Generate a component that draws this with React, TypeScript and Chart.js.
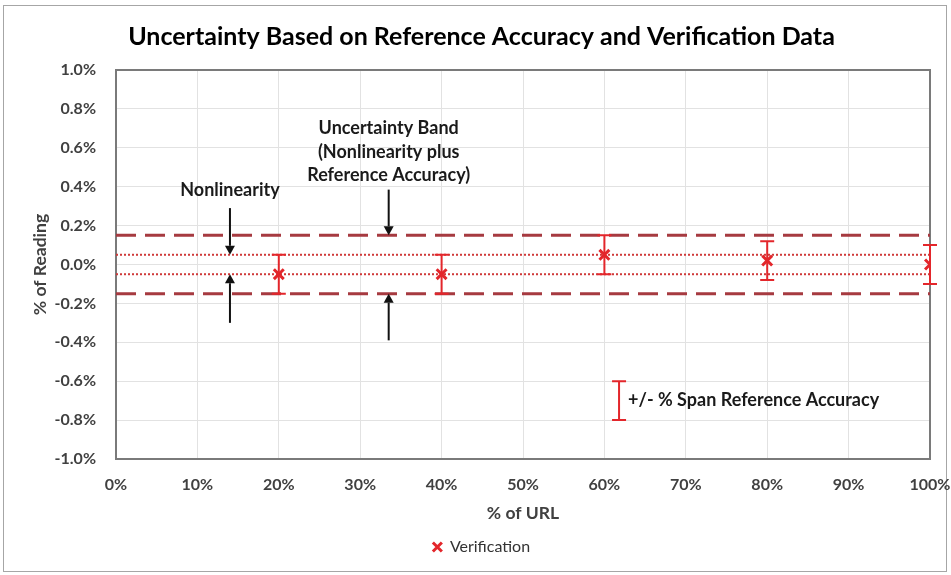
import React, { useEffect, useRef } from 'react';
import { Chart, registerables } from 'chart.js';

Chart.register(...registerables);

// ---- data ----
const TITLE = 'Uncertainty Based on Reference Accuracy and Verification Data';
const X_TITLE = '% of URL';
const Y_TITLE = '% of Reading';
const SERIES_NAME = 'Verification';

const URL_PCT = [20, 40, 60, 80, 100];
const VERIFICATION = [-0.05, -0.05, 0.05, 0.02, 0.0];
const REF_ACCURACY = [0.1, 0.1, 0.1, 0.1, 0.1];

const X_MIN = 0;
const X_MAX = 100;
const X_STEP = 10;
const Y_MIN = -1;
const Y_MAX = 1;
const Y_STEP = 0.2;

const NONLIN_LIMITS = [0.05, -0.05];
const BAND_LIMITS = [0.15, -0.15];

// annotations (in data units)
const NONLIN_LABEL = ['Nonlinearity'];
const NONLIN_LABEL_X = 14;
const NONLIN_LABEL_Y = [0.38];
const NONLIN_ARROW_FROM = [0.29, -0.3];

const BAND_LABEL = ['Uncertainty Band', '(Nonlinearity plus', 'Reference Accuracy)'];
const BAND_LABEL_X = 33.5;
const BAND_LABEL_Y = [0.7, 0.58, 0.46];
const BAND_ARROW_FROM = [0.385, -0.39];

const KEY_TEXT = '+/- % Span Reference Accuracy';
const KEY_X = 61.8;
const KEY_Y = -0.7;
const KEY_ERR = 0.1;

const FONT = 'Lato, "Open Sans", "DejaVu Sans", sans-serif';
const RED = '#e3262b';
const DARK_RED = '#a63a40';

function drawArrow(ctx: CanvasRenderingContext2D, x: number, y0: number, y1: number) {
  const dir = y1 > y0 ? 1 : -1;
  const headLen = 9;
  const headW = 5;
  ctx.save();
  ctx.strokeStyle = '#111';
  ctx.fillStyle = '#111';
  ctx.lineWidth = 2;
  ctx.beginPath();
  ctx.moveTo(x, y0);
  ctx.lineTo(x, y1 - dir * headLen);
  ctx.stroke();
  ctx.beginPath();
  ctx.moveTo(x, y1);
  ctx.lineTo(x - headW, y1 - dir * headLen);
  ctx.lineTo(x + headW, y1 - dir * headLen);
  ctx.closePath();
  ctx.fill();
  ctx.restore();
}

function drawErrorBar(ctx: CanvasRenderingContext2D, x: number, yTop: number, yBot: number) {
  ctx.save();
  ctx.strokeStyle = RED;
  ctx.lineWidth = 2;
  ctx.beginPath();
  ctx.moveTo(x, yTop);
  ctx.lineTo(x, yBot);
  ctx.moveTo(x - 7, yTop);
  ctx.lineTo(x + 7, yTop);
  ctx.moveTo(x - 7, yBot);
  ctx.lineTo(x + 7, yBot);
  ctx.stroke();
  ctx.restore();
}

const framePlugin = {
  id: 'frame',
  beforeDatasetsDraw(chart: any) {
    const { ctx, chartArea } = chart;
    ctx.save();
    ctx.strokeStyle = '#7a7a7a';
    ctx.lineWidth = 2;
    ctx.strokeRect(chartArea.left, chartArea.top, chartArea.right - chartArea.left, chartArea.bottom - chartArea.top);
    ctx.restore();
  },
};

const errorBarPlugin = {
  id: 'errorBars',
  afterDatasetsDraw(chart: any) {
    const { ctx, scales } = chart;
    const xs = scales.x;
    const ys = scales.y;
    URL_PCT.forEach((u, i) => {
      const x = xs.getPixelForValue(u);
      drawErrorBar(ctx, x, ys.getPixelForValue(VERIFICATION[i] + REF_ACCURACY[i]), ys.getPixelForValue(VERIFICATION[i] - REF_ACCURACY[i]));
    });
  },
};

const annotationPlugin = {
  id: 'annotations',
  afterDraw(chart: any) {
    const { ctx, scales } = chart;
    const xs = scales.x;
    const ys = scales.y;
    ctx.save();
    ctx.font = `bold 18px ${FONT}`;
    ctx.fillStyle = '#1a1a1a';
    ctx.textAlign = 'center';
    ctx.textBaseline = 'middle';
    // Nonlinearity
    const nx = xs.getPixelForValue(NONLIN_LABEL_X);
    NONLIN_LABEL.forEach((t, i) => ctx.fillText(t, nx, ys.getPixelForValue(NONLIN_LABEL_Y[i])));
    drawArrow(ctx, nx, ys.getPixelForValue(NONLIN_ARROW_FROM[0]), ys.getPixelForValue(NONLIN_LIMITS[0]));
    drawArrow(ctx, nx, ys.getPixelForValue(NONLIN_ARROW_FROM[1]), ys.getPixelForValue(NONLIN_LIMITS[1]));
    // Band
    const bx = xs.getPixelForValue(BAND_LABEL_X);
    BAND_LABEL.forEach((t, i) => ctx.fillText(t, bx, ys.getPixelForValue(BAND_LABEL_Y[i])));
    drawArrow(ctx, bx, ys.getPixelForValue(BAND_ARROW_FROM[0]), ys.getPixelForValue(BAND_LIMITS[0]));
    drawArrow(ctx, bx, ys.getPixelForValue(BAND_ARROW_FROM[1]), ys.getPixelForValue(BAND_LIMITS[1]));
    // key
    const kx = xs.getPixelForValue(KEY_X);
    drawErrorBar(ctx, kx, ys.getPixelForValue(KEY_Y + KEY_ERR), ys.getPixelForValue(KEY_Y - KEY_ERR));
    ctx.textAlign = 'left';
    ctx.fillStyle = '#1a1a1a';
    ctx.fillText(KEY_TEXT, kx + 9, ys.getPixelForValue(KEY_Y));
    ctx.restore();
  },
};

function hLine(label: string, y: number, dashed: boolean) {
  return {
    label,
    data: [{ x: X_MIN, y }, { x: X_MAX, y }],
    showLine: true,
    borderColor: dashed ? DARK_RED : '#cf3a3a',
    borderWidth: dashed ? 3 : 2,
    borderDash: dashed ? [20, 9] : [2, 2],
    pointRadius: 0,
    fill: false,
  };
}

export default function App() {
  const ref = useRef<HTMLCanvasElement>(null);
  useEffect(() => {
    const canvas = ref.current!;
    const chart = new Chart(canvas, {
      type: 'scatter',
      data: {
        datasets: [
          {
            label: SERIES_NAME,
            data: URL_PCT.map((u, i) => ({ x: u, y: VERIFICATION[i] })),
            pointStyle: 'crossRot',
            pointRadius: 7,
            pointBorderWidth: 3,
            borderColor: RED,
            backgroundColor: RED,
            showLine: false,
          },
          hLine('Upper nonlinearity', NONLIN_LIMITS[0], false),
          hLine('Lower nonlinearity', NONLIN_LIMITS[1], false),
          hLine('Upper band', BAND_LIMITS[0], true),
          hLine('Lower band', BAND_LIMITS[1], true),
        ] as any,
      },
      options: {
        animation: false,
        responsive: true,
        maintainAspectRatio: false,
        layout: { padding: { left: 33, right: 21, top: 0, bottom: 10 } },
        plugins: {
          title: {
            display: true,
            text: TITLE,
            color: '#000',
            font: { family: FONT, size: 25, weight: 'bold' },
            padding: { top: 22, bottom: 18 },
          },
          legend: {
            position: 'bottom',
            labels: {
              filter: (item: any) => item.datasetIndex === 0,
              usePointStyle: true,
              boxWidth: 9,
              boxHeight: 9,
              color: '#333',
              font: { family: FONT, size: 16 },
            },
          },
          tooltip: { enabled: false },
        },
        scales: {
          x: {
            type: 'linear',
            min: X_MIN,
            max: X_MAX,
            afterFit: (s: any) => {
              s.height = 70;
              s.paddingLeft = 0;
              s.paddingRight = 0;
            },
            ticks: {
              stepSize: X_STEP,
              padding: 16,
              color: '#404040',
              font: { family: FONT, size: 16, weight: 'bold' },
              callback: (v: any) => `${v}%`,
            },
            grid: { color: '#e2e2e2', drawTicks: false },
            border: { display: false },
            title: {
              display: true,
              text: X_TITLE,
              color: '#404040',
              font: { family: FONT, size: 17.5, weight: 'bold' },
              padding: { top: 0, bottom: 5.5 },
            },
          },
          y: {
            type: 'linear',
            min: Y_MIN,
            max: Y_MAX,
            afterFit: (s: any) => {
              s.width = 83;
              s.paddingTop = 0;
              s.paddingBottom = 0;
            },
            ticks: {
              stepSize: Y_STEP,
              padding: 20,
              color: '#404040',
              font: { family: FONT, size: 16, weight: 'bold' },
              callback: (v: any) => `${Number(v).toFixed(1)}%`,
            },
            grid: { color: '#e2e2e2', drawTicks: false },
            border: { display: false },
            title: {
              display: true,
              text: Y_TITLE,
              color: '#404040',
              font: { family: FONT, size: 17.5, weight: 'bold' },
              padding: { top: -3.5, bottom: 0 },
            },
          },
        },
      } as any,
      plugins: [framePlugin, errorBarPlugin, annotationPlugin],
    });
    return () => chart.destroy();
  }, []);
  return (
    <div style={{ position: 'absolute', left: 0, top: 0, width: 951, height: 575, background: '#fff' }}>
      <div
        style={{
          position: 'absolute',
          left: 3,
          top: 5,
          width: 944,
          height: 567,
          border: '1px solid #a6a6a6',
          boxSizing: 'border-box',
          pointerEvents: 'none',
        }}
      />
      <div style={{ position: 'absolute', left: 0, top: 0, width: 951, height: 575 }}>
        <canvas ref={ref} />
      </div>
    </div>
  );
}
